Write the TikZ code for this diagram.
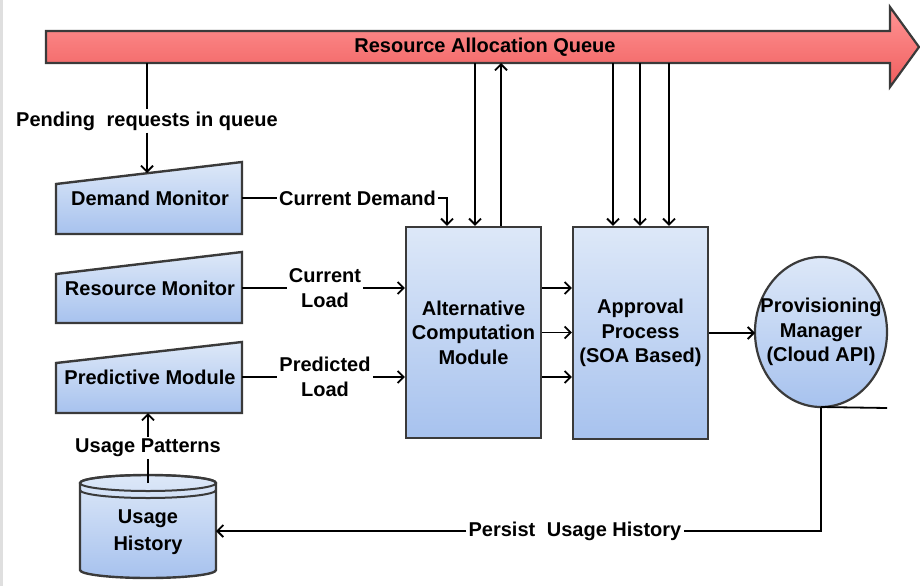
\documentclass[tikz,border=0pt]{standalone}
\usepackage{fontspec}
\setmainfont{Liberation Sans}
\usetikzlibrary{arrows.meta}
\definecolor{boxtop}{HTML}{DDE8F8}
\definecolor{boxbot}{HTML}{A7C2EE}
\definecolor{qtop}{HTML}{FF9494}
\definecolor{qbot}{HTML}{F05E5E}
\definecolor{edgecol}{HTML}{3A3A3A}
\begin{document}
\begin{tikzpicture}[x=1pt,y=-1pt,
  every node/.style={font=\fontsize{20}{24.5}\selectfont\bfseries, text=black},
  conn/.style={line width=1.8pt, draw=black},
  arr/.style={conn, -{Straight Barb[length=6pt,width=12pt,line width=1.8pt]}},
  shapebox/.style={draw=edgecol, line width=2.4pt, top color=boxtop, bottom color=boxbot},
  lbl/.style={inner sep=2pt, align=center}]
\useasboundingbox (0,0) rectangle (920,586);
\fill[gray!25] (0,0) rectangle (2.5,586);

% queue arrow
\path[draw=edgecol, line width=2.2pt, top color=qtop, bottom color=qbot]
  (46,31) -- (890,31) -- (890,7) -- (919,47) -- (890,87) -- (890,63) -- (46,63) -- cycle;
\node (queue) at (485,47) {Resource Allocation Queue};
\coordinate (qpend) at (147,63);
\coordinate (qalt1) at (475,63);
\coordinate (qalt2) at (501,63);
\coordinate (qap1) at (613,63);
\coordinate (qap2) at (640,63);
\coordinate (qap3) at (669,63);

% monitor blocks (manual-input shapes)
\path[shapebox] (56,184) -- (242,162) -- (242,234) -- (56,234) -- cycle;
\node (dm) at (150,198) {Demand Monitor};
\coordinate (dmtop) at (147,173);
\coordinate (dmout) at (242,198);

\path[shapebox] (56,274) -- (242,252) -- (242,323) -- (56,323) -- cycle;
\node (rm) at (150,288) {Resource Monitor};
\coordinate (rmout) at (242,288);

\path[shapebox] (56,363) -- (242,342) -- (242,413) -- (56,413) -- cycle;
\node (pmod) at (150,377) {Predictive Module};
\coordinate (pmodout) at (242,377);
\coordinate (pmodbot) at (148,413);

% usage history store
\path[shapebox] (216,483) -- (216,570) arc[start angle=0,end angle=-180,x radius=68pt,y radius=8pt]
  -- (80,483) arc[start angle=180,end angle=0,x radius=68pt,y radius=8pt] -- cycle;
\draw[draw=edgecol, line width=2pt] (148,483) ellipse[x radius=68pt, y radius=8pt];
\draw[draw=edgecol, line width=2pt] (80,490) arc[start angle=180,end angle=360,x radius=68pt,y radius=8pt];
\node[align=center, font=\fontsize{20}{27}\selectfont\bfseries] (uh) at (148,532) {Usage\\History};
\coordinate (uhtop) at (148,483);
\coordinate (uhin) at (216,531);

% processing blocks
\node[shapebox, minimum width=135pt, minimum height=211pt, inner sep=0, align=center] (alt) at (473.5,332.5) {Alternative\\Computation\\Module};
\node[shapebox, minimum width=135pt, minimum height=212pt, inner sep=0, align=center] (ap) at (640.5,333) {Approval\\Process\\(SOA Based)};
\path[draw=edgecol, line width=2.2pt, top color=boxtop, bottom color=boxbot]
  (821,332) ellipse[x radius=66pt, y radius=75pt];
\node[align=center] (pm) at (821,332) {Provisioning\\Manager\\(Cloud API)};
\coordinate (pmwest) at (755,332);
\coordinate (pmsouth) at (821,407);
\coordinate (pmtail) at (887,408);

% labels
\node[lbl] (pend) at (147,121) {Pending\hspace{0.3em} requests in queue};
\node[lbl] (cd) at (357.5,198) {Current Demand};
\node[lbl] (cl) at (325,288) {Current\\Load};
\node[lbl] (pl) at (325,377) {Predicted\\Load};
\node[lbl] (up) at (148,448) {Usage Patterns};
\node[lbl] (puh) at (575,531) {Persist\hspace{0.3em} Usage History};
\coordinate (cdx) at (447,0);

% connectors
\draw[conn] (qpend) -- (pend.north);
\draw[arr] (pend.south) -- (dmtop);
\draw[conn] (dmout) -- (cd.west);
\draw[arr] (cd.east) -| (cdx |- alt.north);
\draw[conn] (rmout) -- (cl.west);
\draw[arr] (cl.east) -- (cl.east -| alt.west);
\draw[conn] (pmodout) -- (pl.west);
\draw[arr] (pl.east) -- (pl.east -| alt.west);
\draw[conn] (uhtop) -- (up.south);
\draw[arr] (up.north) -- (pmodbot);

\draw[arr] (qalt1) -- (qalt1 |- alt.north);
\draw[arr] (qalt2 |- alt.north) -- (qalt2);
\draw[arr] (qap1) -- (qap1 |- ap.north);
\draw[arr] (qap2) -- (qap2 |- ap.north);
\draw[arr] (qap3) -- (qap3 |- ap.north);

\draw[arr] (alt.east |- cl.east) -- (ap.west |- cl.east);
\draw[arr] (alt.east) -- (alt.east -| ap.west);
\draw[arr] (alt.east |- pl.east) -- (ap.west |- pl.east);
\draw[arr] (ap.east) -- (ap.east -| pmwest);

\draw[conn] (pmsouth) -- (pmtail);
\draw[conn] (pmsouth) |- (puh.east);
\draw[arr] (puh.west) -- (uhin);
\end{tikzpicture}
\end{document}
